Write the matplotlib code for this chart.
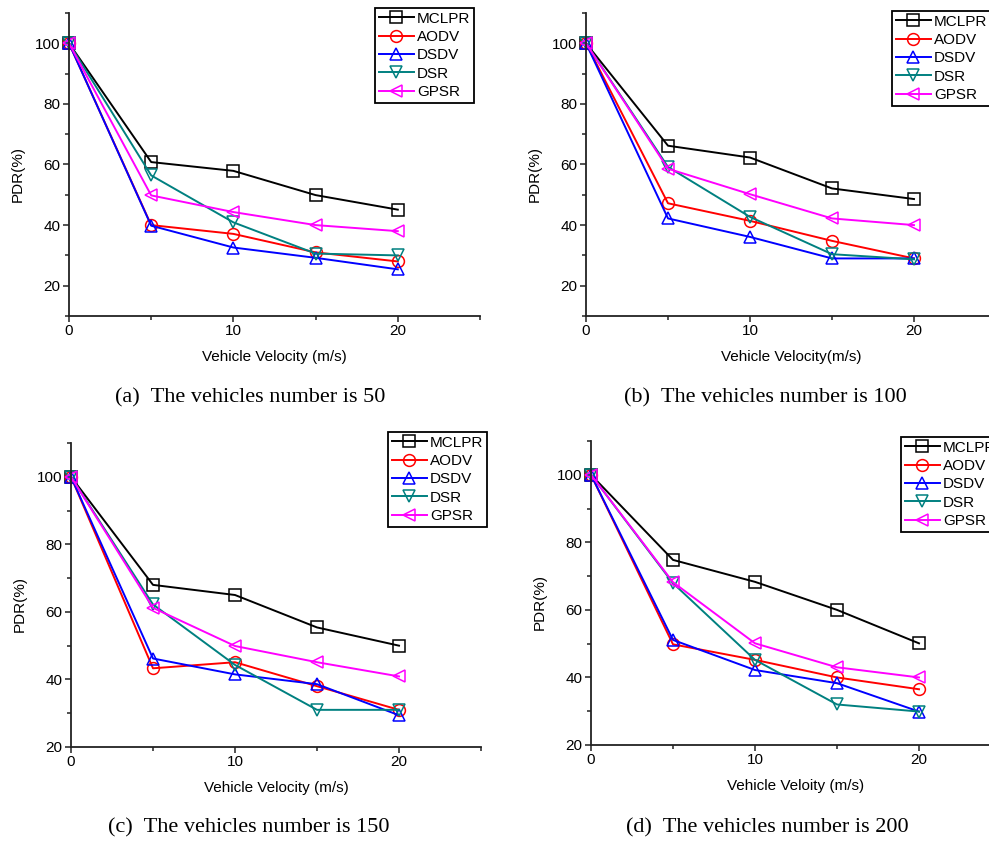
import matplotlib
matplotlib.use("Agg")
import matplotlib.pyplot as plt
from matplotlib.ticker import MultipleLocator

plt.rcParams['font.family'] = ['Liberation Sans', 'DejaVu Sans']

# Vehicle velocity (m/s)
velocity = [0, 5, 10, 15, 20]

protocols = ["MCLPR", "AODV", "DSDV", "DSR", "GPSR"]
colors = ["#000000", "#ff0000", "#0000ff", "#008080", "#ff00ff"]
markers = ["s", "o", "^", "v", "<"]

# PDR(%) values, one list per protocol, for each vehicle count
pdr_50 = [
    [100, 60.8, 57.9, 49.9, 45.1],
    [100, 40.0, 37.1, 31.0, 28.0],
    [100, 39.8, 32.6, 29.2, 25.4],
    [100, 56.4, 40.9, 30.6, 30.0],
    [100, 49.8, 44.3, 40.0, 38.0],
]
pdr_100 = [
    [100, 66.2, 62.3, 52.1, 48.6],
    [100, 47.2, 41.4, 34.8, 29.0],
    [100, 42.2, 36.1, 29.0, 29.0],
    [100, 59.2, 42.7, 30.4, 28.7],
    [100, 58.6, 50.2, 42.2, 40.0],
]
pdr_150 = [
    [100, 68.0, 65.0, 55.4, 50.0],
    [100, 43.3, 45.1, 38.0, 31.0],
    [100, 46.2, 41.5, 38.6, 29.4],
    [100, 62.2, 44.3, 31.0, 31.0],
    [100, 61.2, 49.9, 45.1, 40.9],
]
pdr_200 = [
    [100, 74.8, 68.3, 60.0, 50.1],
    [100, 49.8, 45.2, 40.0, 36.5],
    [100, 51.1, 42.2, 38.3, 29.9],
    [100, 67.9, 45.2, 32.0, 29.9],
    [100, 68.2, 50.1, 43.0, 40.0],
]

W, H = 989, 842
fig = plt.figure(figsize=(W / 100, H / 100), dpi=100)


def px_axes(left, top, right, bottom):
    return fig.add_axes([left / W, 1 - bottom / H, (right - left) / W, (bottom - top) / H])


panels = [
    # data, axes box (px), ymin, xlabel, legend upper-left (px), caption, caption pos
    (pdr_50, (69, 13, 480, 316), 10, "Vehicle Velocity (m/s)", (375, 8),
     "(a)  The vehicles number is 50", (250, 398)),
    (pdr_100, (586, 13, 996, 316), 10, "Vehicle Velocity(m/s)", (892, 11),
     "(b)  The vehicles number is 100", (765, 398)),
    (pdr_150, (71, 443, 481, 747), 20, "Vehicle Velocity (m/s)", (388, 432),
     "(c)  The vehicles number is 150", (249, 828)),
    (pdr_200, (591, 441, 1001, 745), 20, "Vehicle Veloity (m/s)", (901, 437),
     "(d)  The vehicles number is 200", (767, 828)),
]

for data, box, ymin, xlabel, leg_pos, caption, cap_pos in panels:
    ax = px_axes(*box)
    for vals, name, c, m in zip(data, protocols, colors, markers):
        ax.plot(velocity, vals, color=c, marker=m, markersize=8.5,
                markerfacecolor='none', markeredgewidth=1.1, linewidth=1.4,
                label=name, clip_on=False)

    ax.set_xlim(0, 25)
    ax.set_ylim(ymin, 110)
    ax.xaxis.set_major_locator(MultipleLocator(10))
    ax.xaxis.set_minor_locator(MultipleLocator(5))
    ax.yaxis.set_minor_locator(MultipleLocator(10))
    ax.set_yticks([20, 40, 60, 80, 100])
    ax.spines['top'].set_visible(False)
    ax.spines['right'].set_visible(False)
    for s in ('left', 'bottom'):
        ax.spines[s].set_linewidth(1.3)
        ax.spines[s].set_color('#222222')
    ax.tick_params(which='major', direction='out', length=4, width=1.1,
                   labelsize=11, pad=2, color='#222222')
    ax.tick_params(which='minor', direction='out', length=3, width=1.1, color='#222222')

    ax.set_xlabel(xlabel, fontsize=11)
    ax.xaxis.set_label_coords(0.5, -0.112)
    ax.set_ylabel("PDR(%)", fontsize=11)
    ax.yaxis.set_label_coords(-0.107, 0.47)

    leg = ax.legend(loc='upper left', bbox_to_anchor=(leg_pos[0] / W, 1 - leg_pos[1] / H),
                    bbox_transform=fig.transFigure, borderaxespad=0, fontsize=11,
                    fancybox=False, edgecolor='black', framealpha=1, numpoints=1,
                    handlelength=2.3, handletextpad=0.2, labelspacing=0.28,
                    borderpad=0.25)
    leg.get_frame().set_linewidth(1.3)

    fig.text(cap_pos[0] / W, 1 - cap_pos[1] / H, caption, ha='center', va='center',
             fontsize=16, family='Liberation Serif')

fig.savefig("out.png", dpi=100)
